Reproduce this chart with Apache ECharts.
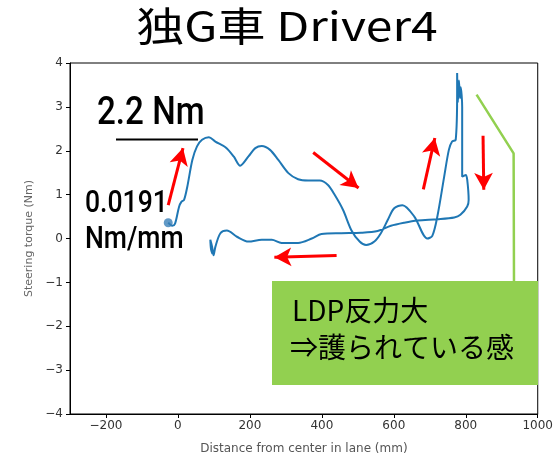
<!DOCTYPE html>
<html>
<head>
  <meta charset="utf-8">
  <title>独G車 Driver4</title>
  <script src="https://cdn.jsdelivr.net/npm/echarts@6.0.0/dist/echarts.min.js"></script>
  <style>
    html, body { margin: 0; padding: 0; background: #fff; }
    #main { width: 556px; height: 460px; }
  </style>
</head>
<body>
  <div id="main"></div>
  <script type="text/javascript">
    // 軌跡 (distance mm, torque Nm) in time order
    var distance = [-27, -16, -8, 3, 10, 17, 26, 40, 53, 67, 86, 104, 132, 155, 173, 196, 215, 233, 256, 279, 307, 334, 362, 394, 417, 436, 459, 482, 505, 523, 546, 564, 583, 601, 624, 657, 693, 707, 721, 740, 753, 762, 772, 776, 776, 778, 781, 784, 786, 790, 790, 800, 804, 808, 804, 785, 768, 721, 666, 629, 592, 555, 509, 454, 399, 372, 334, 288, 261, 233, 196, 164, 136, 118, 104, 99, 95, 90, 92, 96, 95];
    var torque = [0.36, 0.29, 0.34, 0.72, 0.84, 0.88, 1.18, 1.79, 2.10, 2.25, 2.31, 2.21, 2.08, 1.87, 1.66, 1.87, 2.06, 2.11, 2.02, 1.79, 1.49, 1.35, 1.32, 1.32, 1.22, 0.99, 0.65, 0.19, -0.07, -0.15, -0.07, 0.12, 0.42, 0.69, 0.76, 0.50, 0.00, 0.06, 0.50, 1.41, 2.02, 2.21, 2.25, 3.31, 3.77, 3.10, 3.60, 3.20, 3.45, 3.00, 1.41, 1.45, 1.34, 0.88, 0.73, 0.54, 0.48, 0.44, 0.41, 0.36, 0.29, 0.17, 0.13, 0.12, 0.10, 0.00, -0.10, -0.10, -0.03, -0.03, -0.07, 0.04, 0.18, 0.12, -0.19, -0.38, -0.19, -0.03, -0.25, -0.35, -0.20];

    // 吹き出しの線
    var calloutX = [830, 933, 934];
    var calloutY = [3.28, 1.94, -0.99];

    // 赤矢印 [x1, y1, x2, y2]
    var arrows = [
      [-27, 0.76, 14, 2.06],
      [376, 1.96, 502, 1.15],
      [441, -0.39, 268, -0.43],
      [682, 1.12, 714, 2.29],
      [848, 2.34, 850, 1.11]
    ];

    var xTicks = [-200, 0, 200, 400, 600, 800, 1000];
    var yTicks = [-4, -3, -2, -1, 0, 1, 2, 3, 4];

    function zip(a, b) {
      var out = [];
      for (var i = 0; i < a.length; i++) out.push([a[i], b[i]]);
      return out;
    }
    function minus(v) { return String(v).replace('-', '\u2212'); }

    var chart = echarts.init(document.getElementById('main'), null, { renderer: 'canvas' });
    var tickFont = { fontFamily: 'DejaVu Sans', fontSize: 12, color: '#333' };
    var jp = '"Noto Sans CJK JP"';

    var option = {
      animation: false,
      grid: {
        left: 70, right: 15, top: 63, bottom: 46,
        show: true, borderColor: '#000', borderWidth: 1
      },
      xAxis: {
        type: 'value', min: -300, max: 1000,
        name: 'Distance from center in lane (mm)',
        nameLocation: 'middle', nameGap: 29,
        nameTextStyle: { fontFamily: 'DejaVu Sans', fontSize: 12, color: '#555' },
        axisLine: { onZero: false, lineStyle: { color: '#000', width: 1 } },
        axisTick: { show: true, length: 4, customValues: xTicks, lineStyle: { color: '#000' } },
        axisLabel: Object.assign({ margin: 6, customValues: xTicks, formatter: minus }, tickFont),
        splitLine: { show: false }
      },
      yAxis: {
        type: 'value', min: -4, max: 4,
        name: 'Steering torque (Nm)',
        nameLocation: 'middle', nameGap: 34,
        nameTextStyle: { fontFamily: 'DejaVu Sans', fontSize: 11, color: '#666' },
        axisLine: { onZero: false, lineStyle: { color: '#000', width: 1 } },
        axisTick: { show: true, length: 4, customValues: yTicks, lineStyle: { color: '#000' } },
        axisLabel: Object.assign({ margin: 7, customValues: yTicks, formatter: minus }, tickFont),
        splitLine: { show: false }
      },
      series: [{
        type: 'line',
        data: zip(distance, torque),
        smooth: 0.3,
        showSymbol: false,
        lineStyle: { color: '#1f77b4', width: 2 },
        silent: true,
        z: 3
      }, {
        type: 'scatter',
        data: [[distance[0], torque[0]]],
        symbolSize: 9,
        itemStyle: { color: '#3a7fb8' },
        silent: true,
        z: 4
      }, {
        type: 'line',
        data: zip(calloutX, calloutY),
        showSymbol: false,
        lineStyle: { color: '#92d050', width: 2.5 },
        silent: true,
        z: 2,
        markLine: {
          silent: true,
          symbol: ['none', 'arrow'],
          symbolSize: [14, 17],
          label: { show: false },
          lineStyle: { color: '#ff0000', width: 3, type: 'solid' },
          data: arrows.map(function (a) {
            return [{ coord: [a[0], a[1]] }, { coord: [a[2], a[3]] }];
          })
        }
      }],
      graphic: [{
        type: 'text', x: 287, y: 26, scaleX: 1.2, z: 10,
        style: { text: '独G車 Driver4', textAlign: 'center', textVerticalAlign: 'middle',
          font: '40px ' + jp, fill: '#000' }
      }, {
        type: 'text', x: 97, y: 114, scaleX: 0.85, z: 10,
        style: { text: '2.2 Nm', textVerticalAlign: 'middle', font: '500 39px Roboto', fill: '#000' }
      }, {
        type: 'line', z: 10,
        shape: { x1: 116, y1: 139.5, x2: 198, y2: 139.5 },
        style: { stroke: '#000', lineWidth: 2 }
      }, {
        type: 'text', x: 85, y: 204, scaleX: 0.83, z: 10,
        style: { text: '0.0191', textVerticalAlign: 'middle', font: '500 32px Roboto', fill: '#000' }
      }, {
        type: 'text', x: 85, y: 240, scaleX: 0.83, z: 10,
        style: { text: 'Nm/mm', textVerticalAlign: 'middle', font: '500 32px Roboto', fill: '#000' }
      }, {
        type: 'rect', z: 10,
        shape: { x: 272, y: 281, width: 266, height: 104 },
        style: { fill: '#92d050' }
      }, {
        type: 'text', x: 292, y: 296, z: 11,
        style: { text: 'LDP反力大', font: '28px ' + jp, fill: '#000' }
      }, {
        type: 'text', x: 290, y: 333, z: 11,
        style: { text: '⇒護られている感', font: '28px ' + jp, fill: '#000' }
      }]
    };
    chart.setOption(option);
  </script>
</body>
</html>
